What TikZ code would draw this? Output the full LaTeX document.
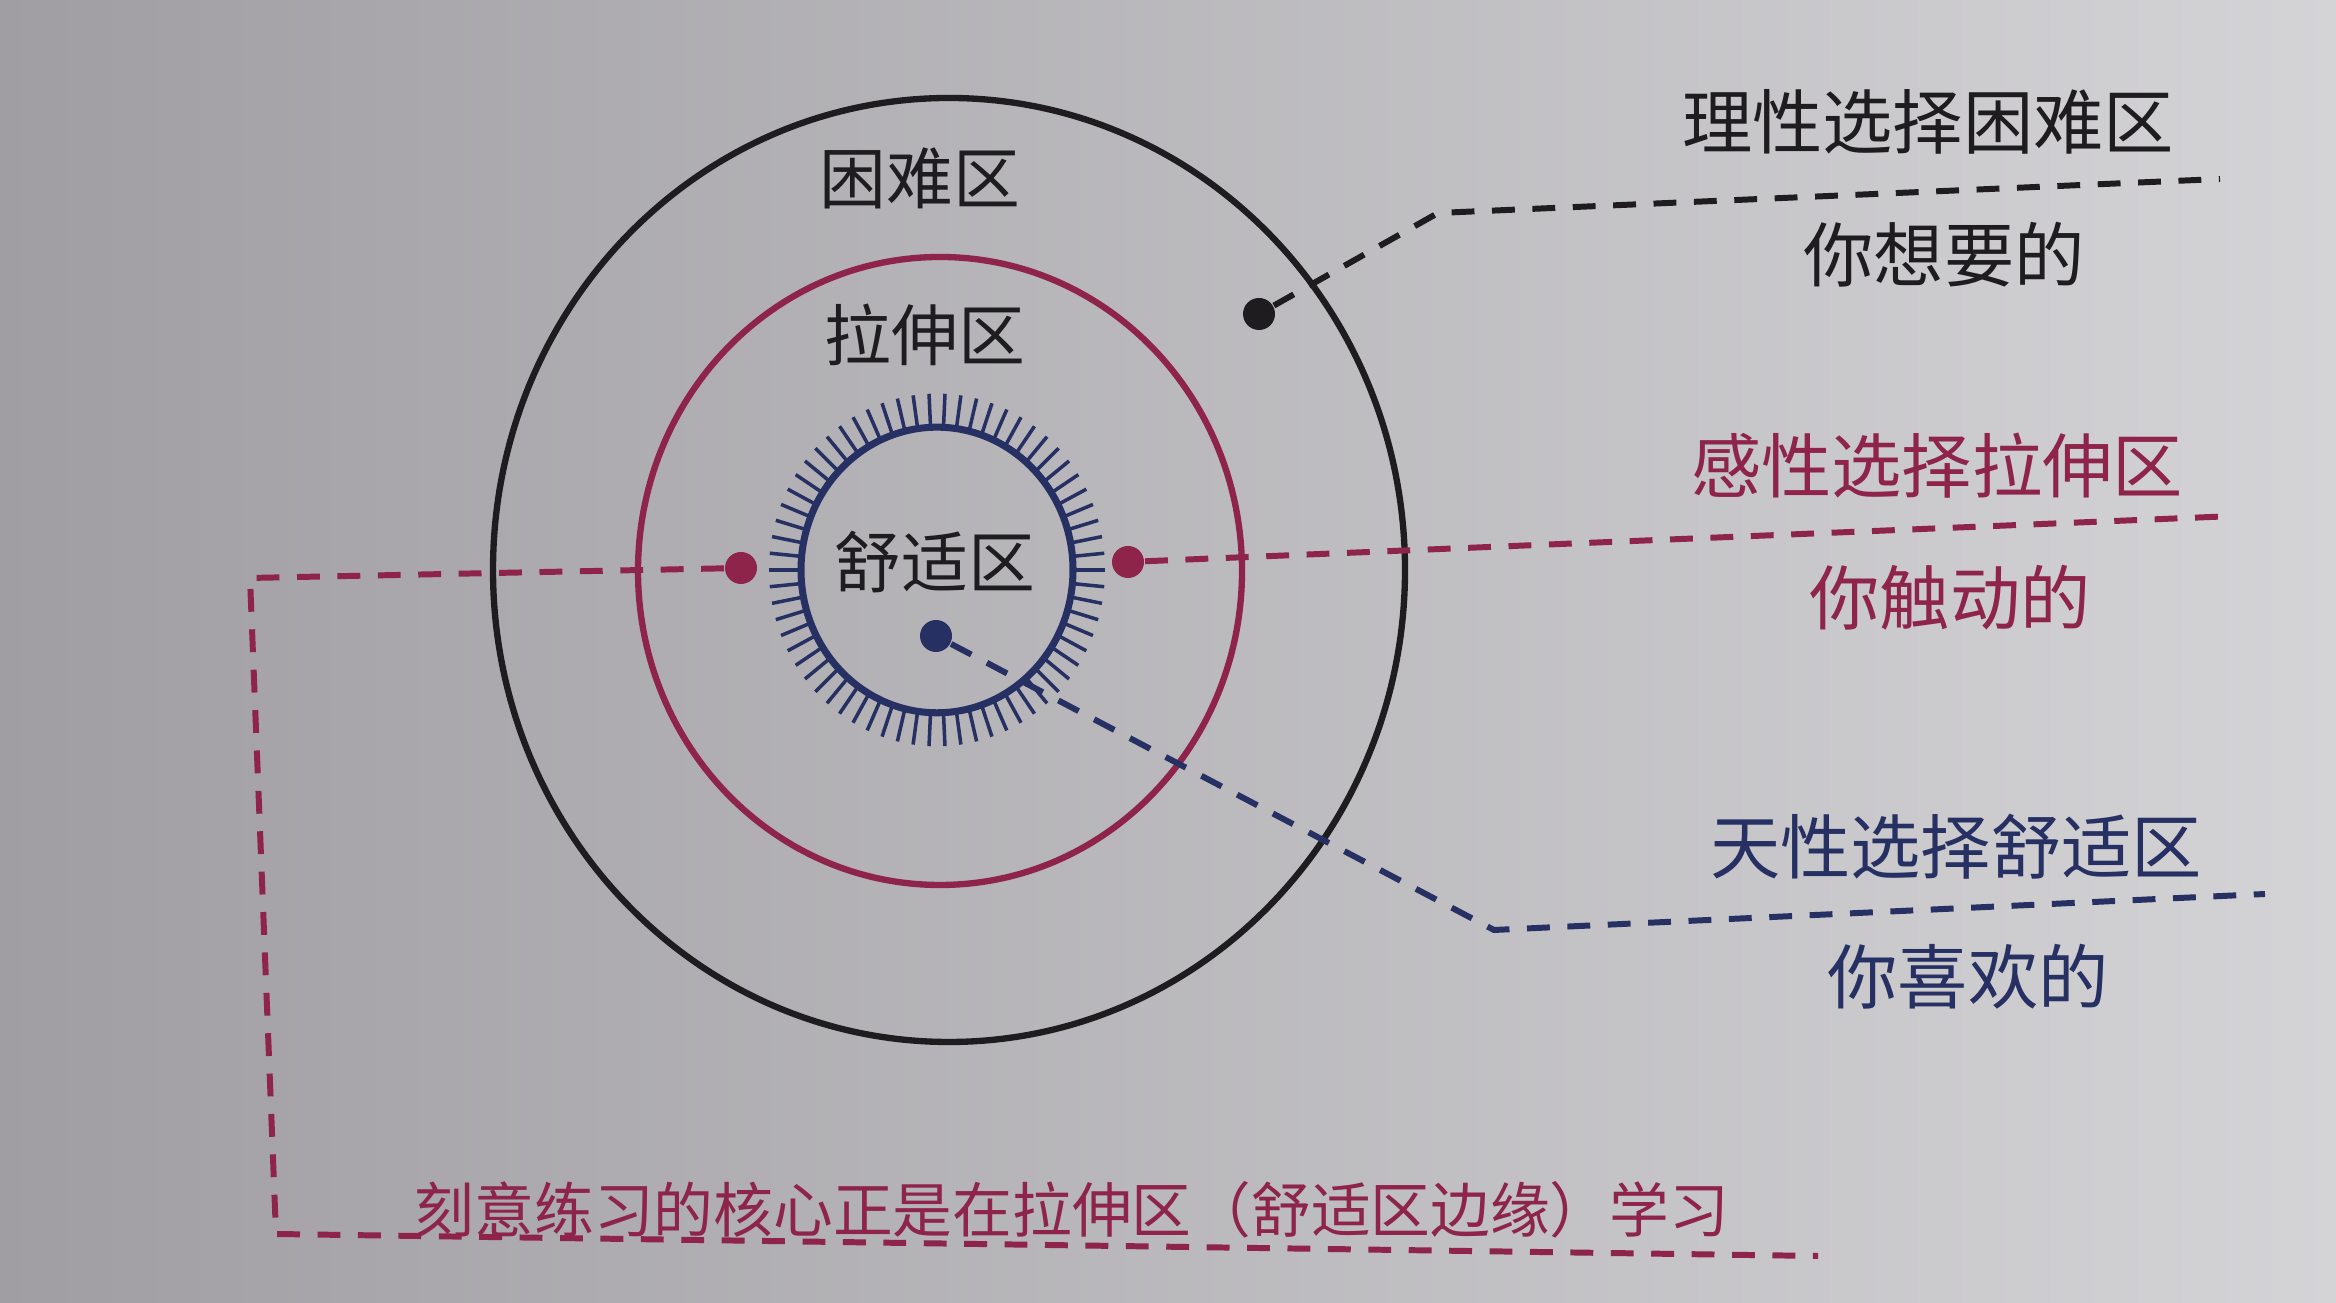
\documentclass[tikz,border=0pt]{standalone}
\usepackage{fontspec}
\setmainfont{Noto Sans CJK SC}
\usepackage{xcolor}
\usepackage{tikz}

\definecolor{paperl}{RGB}{160,158,162}
\definecolor{paperr}{RGB}{212,211,214}
\definecolor{ink}{RGB}{30,28,30}
\definecolor{rose}{RGB}{142,36,74}
\definecolor{navy}{RGB}{38,48,98}

\begin{document}
\begin{tikzpicture}[semithick, inner sep=0pt,
  zone/.style={draw, line width=1.8pt},
  link/.style={line width=1.7pt, dash pattern=on 6.5pt off 5pt},
  spot/.style={circle, fill, minimum size=0.32cm},
  zonelabel/.style={text=ink, font=\fontsize{19}{19}\selectfont}]

\useasboundingbox (0,0) rectangle (23.36,13.03);
\fill[left color=paperl, right color=paperr] (0,0) rectangle (23.36,13.03);

\coordinate (c) at (9.49,7.33);
\coordinate (cs) at (9.40,7.32);
\coordinate (cc) at (9.37,7.33);
\draw[zone, ink] (c) ellipse [x radius=4.56, y radius=4.72];
\draw[zone, rose] (cs) ellipse [x radius=3.02, y radius=3.14];
\begin{scope}[shift={(cc)}, yscale=1.05]
\draw[navy, line width=2pt] (0,0) circle (1.36);
\foreach \a in {1,...,66}
  \draw[navy, line width=1pt] (\a/66*360:1.36) -- (\a/66*360:1.68);
\end{scope}

\node[zonelabel] (hard) at (9.20,11.25) {困难区};
\node[zonelabel] (stretch) at (9.25,9.68) {拉伸区};
\node[zonelabel] (comfort) at (9.35,7.41) {舒适区};

\node[spot, ink] (dhard) at (12.59,9.89) {};
\node[spot, rose] (dleft) at (7.41,7.35) {};
\node[spot, rose] (dright) at (11.28,7.41) {};
\node[spot, navy] (dcomfort) at (9.36,6.67) {};

\coordinate (khard) at (14.38,10.90);
\coordinate (ehard) at (22.20,11.24);
\coordinate (eright) at (22.35,7.87);
\coordinate (kleft) at (2.50,7.25);
\coordinate (kbottom) at (2.76,0.69);
\coordinate (ebottom) at (18.18,0.47);
\coordinate (kcomfort) at (14.94,3.73);
\coordinate (ecomfort) at (22.65,4.09);

\draw[link, ink] (dhard) -- (khard) -- (ehard);
\draw[link, rose] (dright) -- (eright);
\draw[link, rose] (dleft) -- (kleft) -- (kbottom) -- (ebottom);
\draw[link, navy] (dcomfort) -- (kcomfort) -- (ecomfort);

\tikzstyle{every node}=[font=\fontsize{20}{20}\selectfont]
\node[text=ink] (reason) at (19.28,11.81) {理性选择困难区};
\node[text=ink] (want) at (19.44,10.48) {你想要的};
\node[text=rose] (feel) at (19.37,8.37) {感性选择拉伸区};
\node[text=rose] (touch) at (19.50,7.05) {你触动的};
\node[text=navy] (nature) at (19.56,4.56) {天性选择舒适区};
\node[text=navy] (like) at (19.68,3.26) {你喜欢的};
\node[text=rose, font=\fontsize{17}{17}\selectfont] (core) at (10.72,0.93) {刻意练习的核心正是在拉伸区（舒适区边缘）学习};

\end{tikzpicture}
\end{document}
